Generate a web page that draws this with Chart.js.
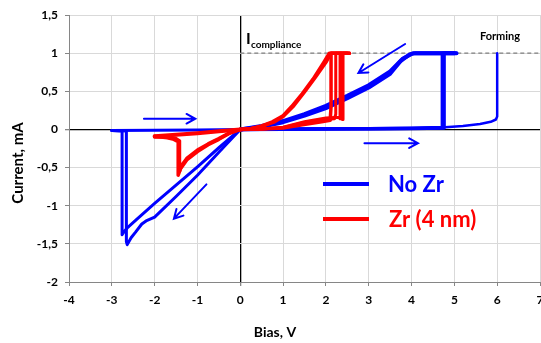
<!DOCTYPE html>
<html>
<head>
<meta charset="utf-8">
<script src="https://cdn.jsdelivr.net/npm/chart.js@4.4.0/dist/chart.umd.min.js"></script>
<style>
  html, body { margin: 0; padding: 0; background: #fff; }
</style>
</head>
<body>
<canvas id="grafico-iv" width="541" height="343"></canvas>
<script>
// Ejes
const ticksBias = [-4, -3, -2, -1, 0, 1, 2, 3, 4, 5, 6, 7];
const ticksCorriente = [-2, -1.5, -1, -0.5, 0, 0.5, 1, 1.5];

// No Zr: forming
const formV = [0, 1, 2, 3, 4, 4.7, 5.2, 5.6, 5.85, 5.97, 6.0, 6.0];
const formI = [0, 0.003, 0.005, 0.008, 0.012, 0.025, 0.045, 0.07, 0.1, 0.13, 0.17, 1.0];

// No Zr: set (HRS -> compliance)
const setV1 = [0, 1, 2, 3, 4, 4.72, 4.72, 5.05];
const setI1 = [0, 0.005, 0.008, 0.01, 0.015, 0.025, 1.0, 1.0];
const setV2 = [0, 1, 2, 3, 4, 4.76, 4.76, 5.0];
const setI2 = [0, 0.003, 0.005, 0.008, 0.012, 0.02, 1.0, 1.0];

// No Zr: vuelta en LRS
const lrsV1 = [5.05, 4.1, 4.0, 3.8, 3.5, 3.0, 2.5, 2.0, 1.5, 1.0, 0.5, 0];
const lrsI1 = [1.0, 1.0, 0.99, 0.93, 0.76, 0.58, 0.44, 0.31, 0.2, 0.11, 0.045, 0];
const lrsV2 = [5.0, 4.05, 3.95, 3.75, 3.5, 3.0, 2.5, 2.0, 1.5, 1.0, 0.5, 0];
const lrsI2 = [1.0, 1.0, 0.98, 0.9, 0.73, 0.55, 0.41, 0.28, 0.18, 0.095, 0.035, 0];

// No Zr: reset (bias negativo)
const resetV1 = [0, -0.5, -1, -1.5, -2, -2.4, -2.62, -2.7, -2.76, -2.76, -3.0];
const resetI1 = [0, -0.24, -0.49, -0.73, -0.97, -1.17, -1.28, -1.33, -1.38, -0.02, -0.015];
const resetV2 = [0, -0.5, -1, -1.5, -2, -2.2, -2.3, -2.45, -2.55, -2.64, -2.66, -2.66, -3.0];
const resetI2 = [0, -0.3, -0.6, -0.88, -1.15, -1.2, -1.24, -1.35, -1.42, -1.51, -1.47, -0.02, -0.015];
const hrsNegV = [-3.0, -2, -1, 0];
const hrsNegI = [-0.015, -0.012, -0.008, 0];

// Zr (4 nm): set
const zrSetV1 = [0, 0.5, 1, 1.45, 1.9, 2.1, 2.12, 2.12, 2.55];
const zrSetI1 = [0, 0.005, 0.02, 0.06, 0.1, 0.12, 0.3, 1.0, 1.0];
const zrSetV2 = [0, 0.5, 1, 1.5, 2.0, 2.2, 2.23, 2.23, 2.5];
const zrSetI2 = [0, 0.004, 0.025, 0.09, 0.13, 0.14, 0.2, 1.0, 1.0];
const zrSetV3 = [0, 0.5, 1, 1.5, 2.0, 2.3, 2.33, 2.33, 2.36, 2.38, 2.4, 2.4, 2.55];
const zrSetI3 = [0, 0.005, 0.03, 0.1, 0.15, 0.16, 0.14, 1.0, 1.0, 0.13, 0.13, 1.0, 1.0];

// Zr (4 nm): vuelta en LRS
const zrLrsV1 = [2.55, 2.12, 2.0, 1.75, 1.5, 1.25, 1.0, 0.8, 0.5, 0.25, 0];
const zrLrsI1 = [1.0, 1.0, 0.88, 0.68, 0.49, 0.31, 0.17, 0.1, 0.04, 0.01, 0];
const zrLrsV2 = [2.5, 2.08, 1.95, 1.7, 1.45, 1.2, 1.0, 0.75, 0.5, 0.25, 0];
const zrLrsI2 = [1.0, 1.0, 0.88, 0.66, 0.47, 0.3, 0.18, 0.1, 0.045, 0.012, 0];

// Zr (4 nm): reset
const zrResetV1 = [0, -0.25, -0.5, -0.75, -1, -1.25, -1.4, -1.45, -1.45, -1.55, -1.7, -2.0];
const zrResetI1 = [0, -0.05, -0.13, -0.2, -0.29, -0.4, -0.52, -0.6, -0.16, -0.13, -0.11, -0.09];
const zrResetV2 = [0, -0.25, -0.5, -0.75, -1, -1.25, -1.38, -1.42, -1.42, -1.5, -1.75, -2.0];
const zrResetI2 = [0, -0.045, -0.12, -0.19, -0.27, -0.38, -0.48, -0.55, -0.15, -0.12, -0.1, -0.1];
const zrRetV = [-2.0, -1.5, -1.0, -0.5, 0];
const zrRetI = [-0.09, -0.07, -0.05, -0.025, 0];

// Límite de compliance
const complianceV = [0, 7];
const complianceI = [1, 1];

// Flechas de barrido [x1, y1, x2, y2]
const flechas = [
  [-2.25, 0.14, -1.05, 0.14],
  [2.9, -0.18, 4.15, -0.18],
  [3.85, 1.12, 2.76, 0.74],
  [-0.79, -0.72, -1.55, -1.17]
];

const AZUL = '#0000ff';
const ROJO = '#ff0000';
const FUENTE = 'Lato, Carlito, Calibri, "Open Sans", sans-serif';

function serie(v, i, color, ancho, orden, label) {
  return {
    label: label || '',
    data: v.map((x, k) => ({ x: x, y: i[k] })),
    showLine: true,
    borderColor: color,
    backgroundColor: color,
    borderWidth: ancho,
    borderJoinStyle: 'round',
    borderCapStyle: 'round',
    pointRadius: 0,
    tension: 0,
    fill: false,
    order: orden
  };
}

const numero = v => String(v).replace('.', ',');

// Textos, flechas y leyenda encima del gráfico
const anotaciones = {
  id: 'anotaciones',
  afterDatasetsDraw(chart) {
    const ctx = chart.ctx;
    const sx = chart.scales.x;
    const sy = chart.scales.y;
    ctx.save();

    // flechas
    ctx.strokeStyle = AZUL;
    ctx.lineWidth = 2;
    ctx.lineCap = 'round';
    flechas.forEach(f => {
      const x1 = sx.getPixelForValue(f[0]), y1 = sy.getPixelForValue(f[1]);
      const x2 = sx.getPixelForValue(f[2]), y2 = sy.getPixelForValue(f[3]);
      const ang = Math.atan2(y2 - y1, x2 - x1);
      const L = 10;
      ctx.beginPath();
      ctx.moveTo(x1, y1);
      ctx.lineTo(x2, y2);
      ctx.moveTo(x2 - L * Math.cos(ang - 0.5), y2 - L * Math.sin(ang - 0.5));
      ctx.lineTo(x2, y2);
      ctx.lineTo(x2 - L * Math.cos(ang + 0.5), y2 - L * Math.sin(ang + 0.5));
      ctx.stroke();
    });

    // I compliance
    ctx.fillStyle = '#000';
    ctx.textAlign = 'left';
    ctx.textBaseline = 'alphabetic';
    ctx.font = 'bold 16px ' + FUENTE;
    ctx.fillText('I', 246, 44);
    ctx.font = 'bold 10px ' + FUENTE;
    ctx.fillText('compliance', 251, 48);

    // Forming
    ctx.font = 'bold 11px ' + FUENTE;
    ctx.textAlign = 'center';
    ctx.textBaseline = 'middle';
    ctx.fillText('Forming', 500, 36);

    // leyenda
    const items = [
      { texto: 'No Zr', color: AZUL, y: 184, x: 388 },
      { texto: 'Zr (4 nm)', color: ROJO, y: 219, x: 389 }
    ];
    items.forEach(it => {
      ctx.strokeStyle = it.color;
      ctx.lineWidth = 4;
      ctx.lineCap = 'butt';
      ctx.beginPath();
      ctx.moveTo(323, it.y);
      ctx.lineTo(369, it.y);
      ctx.stroke();
      ctx.fillStyle = it.color;
      ctx.font = 'bold 22px ' + FUENTE;
      ctx.textAlign = 'left';
      ctx.textBaseline = 'middle';
      ctx.fillText(it.texto, it.x, it.y + 1);
    });

    // títulos de ejes
    ctx.fillStyle = '#000';
    ctx.font = 'bold 14px ' + FUENTE;
    ctx.textAlign = 'center';
    ctx.textBaseline = 'middle';
    ctx.fillText('Bias, V', 275, 332);
    ctx.save();
    ctx.translate(18, 163);
    ctx.rotate(-Math.PI / 2);
    ctx.font = 'bold 15px ' + FUENTE;
    ctx.fillText('Current, mA', 0, 0);
    ctx.restore();

    ctx.restore();
  }
};

const datasets = [
  serie(zrSetV1, zrSetI1, ROJO, 3.5, 1, 'Zr (4 nm)'),
  serie(zrSetV2, zrSetI2, ROJO, 3, 1),
  serie(zrSetV3, zrSetI3, ROJO, 3, 1),
  serie(zrLrsV1, zrLrsI1, ROJO, 3.5, 1),
  serie(zrLrsV2, zrLrsI2, ROJO, 3.5, 1),
  serie(zrResetV1, zrResetI1, ROJO, 3.5, 1),
  serie(zrResetV2, zrResetI2, ROJO, 3.5, 1),
  serie(zrRetV, zrRetI, ROJO, 4, 1),
  serie(formV, formI, AZUL, 2.5, 2, 'No Zr'),
  serie(setV1, setI1, AZUL, 3.5, 2),
  serie(setV2, setI2, AZUL, 3.5, 2),
  serie(lrsV1, lrsI1, AZUL, 4, 2),
  serie(lrsV2, lrsI2, AZUL, 4, 2),
  serie(resetV1, resetI1, AZUL, 3, 2),
  serie(resetV2, resetI2, AZUL, 3, 2),
  serie(hrsNegV, hrsNegI, AZUL, 3, 2),
  Object.assign(serie(complianceV, complianceI, '#7f7f7f', 1.2, 3), { borderDash: [4, 3], borderCapStyle: 'butt' })
];

new Chart(document.getElementById('grafico-iv'), {
  type: 'scatter',
  data: { datasets: datasets },
  options: {
    responsive: false,
    animation: false,
    devicePixelRatio: 1,
    layout: { padding: { top: 15, right: 1, left: 0, bottom: 0 } },
    plugins: {
      legend: { display: false },
      tooltip: { enabled: false }
    },
    scales: {
      x: {
        type: 'linear',
        min: ticksBias[0],
        max: ticksBias[ticksBias.length - 1],
        afterBuildTicks: s => { s.ticks = ticksBias.map(v => ({ value: v })); },
        afterFit: s => { s.height = 61; s.paddingLeft = 0; s.paddingRight = 0; },
        ticks: {
          color: '#000',
          padding: 7,
          font: { family: FUENTE, size: 12, weight: 'bold' },
          callback: v => numero(v)
        },
        grid: {
          color: c => c.tick && c.tick.value === 0 ? '#000' : '#d9d9d9',
          lineWidth: c => c.tick && c.tick.value === 0 ? 1.3 : 1,
          tickColor: '#868686',
          tickLength: 4
        },
        border: { color: '#868686', width: 1 }
      },
      y: {
        type: 'linear',
        min: ticksCorriente[0],
        max: ticksCorriente[ticksCorriente.length - 1],
        afterBuildTicks: s => { s.ticks = ticksCorriente.map(v => ({ value: v })); },
        afterFit: s => { s.width = 69; },
        ticks: {
          color: '#000',
          padding: 7,
          font: { family: FUENTE, size: 12, weight: 'bold' },
          callback: v => numero(v)
        },
        grid: {
          color: c => c.tick && c.tick.value === 0 ? '#000' : '#d9d9d9',
          lineWidth: c => c.tick && c.tick.value === 0 ? 1.3 : 1,
          tickColor: '#868686',
          tickLength: 4
        },
        border: { color: '#868686', width: 1 }
      }
    }
  },
  plugins: [anotaciones]
});
</script>
</body>
</html>
